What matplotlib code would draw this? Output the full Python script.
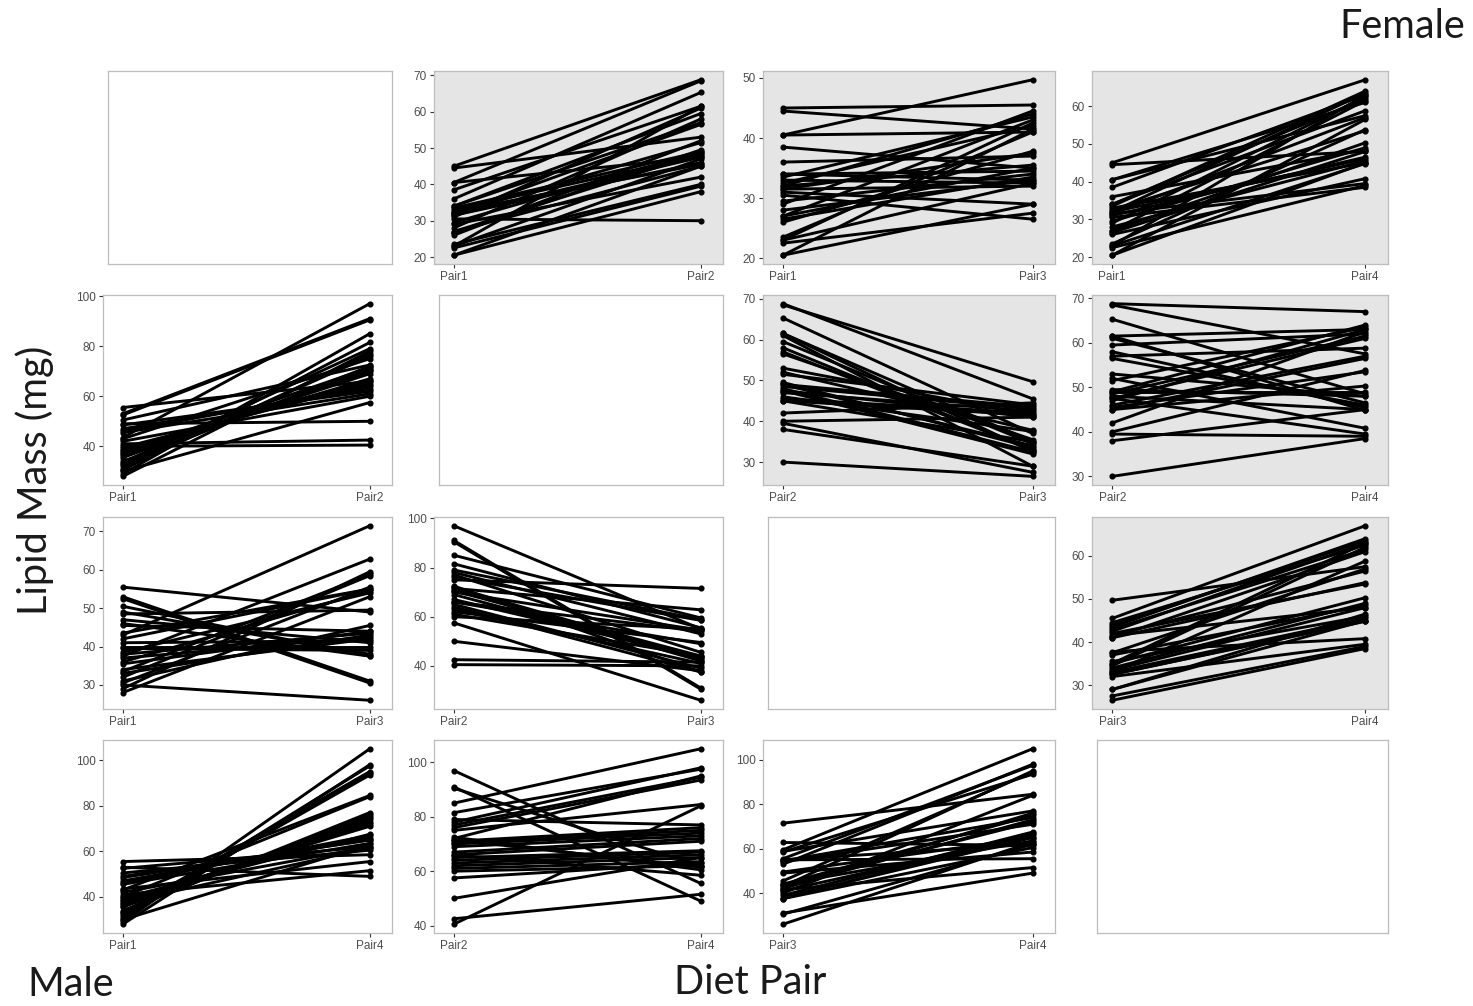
import numpy as np
import matplotlib.pyplot as plt
from matplotlib.ticker import MaxNLocator

diets = ["Pair1", "Pair2", "Pair3", "Pair4"]

# lipid mass (mg) per animal, one entry per individual, on each diet pair
female_pair1 = [45.0, 44.5, 40.5, 40.5, 38.5, 36.0, 34.0, 34.0, 33.5, 33.0,
                32.5, 32.0, 32.0, 31.5, 31.0, 30.5, 29.5, 29.0, 28.0, 27.0,
                27.0, 26.0, 23.5, 23.0, 23.0, 22.5, 20.5, 20.5, 26.5, 31.5]
female_pair2 = [68.8, 53.0, 68.5, 47.5, 61.5, 65.3, 59.5, 57.0, 49.0, 48.0,
                45.5, 56.5, 51.5, 46.0, 61.0, 30.0, 49.0, 42.0, 58.0, 45.0,
                48.5, 52.0, 40.0, 47.0, 61.5, 39.5, 38.0, 45.0, 49.5, 47.5]
female_pair3 = [45.5, 41.5, 49.7, 41.0, 35.0, 37.0, 34.5, 33.0, 43.5, 32.5,
                42.0, 35.5, 44.0, 37.5, 29.0, 26.5, 34.0, 44.5, 33.0, 35.0,
                43.0, 37.8, 41.0, 42.5, 32.5, 27.5, 29.0, 41.5, 33.5, 32.0]
female_pair4 = [67.0, 48.0, 57.5, 61.0, 63.0, 48.5, 62.0, 58.8, 64.0, 45.0,
                53.5, 46.0, 63.5, 57.0, 46.5, 38.5, 49.0, 62.5, 45.5, 50.3,
                61.5, 40.8, 53.8, 63.0, 44.8, 39.0, 45.0, 56.5, 48.0, 39.5]

male_pair1 = [43.0, 43.5, 55.5, 53.0, 52.5, 30.0, 40.0, 41.0, 49.0, 28.0,
              29.0, 30.5, 31.0, 32.0, 33.0, 34.0, 35.5, 36.0, 37.0, 38.0,
              38.5, 39.5, 46.0, 47.0, 48.5, 45.5, 42.0, 37.5, 33.5, 50.5]
male_pair2 = [75.0, 97.0, 66.0, 91.0, 90.5, 57.5, 40.5, 42.5, 50.0, 78.0,
              85.0, 81.5, 77.0, 76.0, 72.0, 71.0, 70.5, 70.0, 69.0, 67.0,
              66.0, 65.0, 64.0, 63.0, 62.0, 61.0, 60.0, 71.5, 79.0, 72.5]
male_pair3 = [71.5, 55.0, 49.0, 31.0, 30.5, 26.0, 40.0, 41.5, 38.0, 53.0,
              59.5, 55.5, 45.5, 58.5, 43.0, 42.0, 44.0, 54.5, 42.5, 43.5,
              54.0, 39.0, 37.5, 41.0, 49.5, 44.0, 55.0, 62.8, 58.8, 37.5]
male_pair4 = [84.5, 55.5, 58.5, 49.0, 62.0, 63.0, 84.0, 51.5, 65.0, 98.0,
              105.0, 97.5, 94.5, 93.5, 95.0, 76.0, 75.0, 74.0, 73.0, 72.0,
              71.0, 67.5, 67.0, 66.0, 65.0, 63.5, 62.0, 61.5, 77.0, 60.5]

female = [female_pair1, female_pair2, female_pair3, female_pair4]
male = [male_pair1, male_pair2, male_pair3, male_pair4]

W, H = 1473, 1006
fig = plt.figure(figsize=(W / 100, H / 100), dpi=100)

# panel edges in pixels
col_left = [103, 434, 763, 1092]
col_right = [392, 723, 1055, 1388]
row_top = [71, 295, 517, 740]
row_bottom = [264, 485, 709, 933]


def panel(left, top, right, bottom):
    return fig.add_axes([left / W, 1 - bottom / H, (right - left) / W, (bottom - top) / H])


for i in range(4):
    for j in range(4):
        if i == j:
            ax = panel(col_left[j] + 5, row_top[i], col_right[j], row_bottom[i])
            ax.set_xticks([])
            ax.set_yticks([])
        else:
            ax = panel(col_left[j], row_top[i], col_right[j], row_bottom[i])
            if i < j:
                a, b = female[i], female[j]
                labels = [diets[i], diets[j]]
                ax.set_facecolor("#E5E5E5")
            else:
                a, b = male[j], male[i]
                labels = [diets[j], diets[i]]
            for y0, y1 in zip(a, b):
                ax.plot([0, 1], [y0, y1], color="black", lw=2.1,
                        marker="o", ms=3.4, solid_capstyle="round")
            ax.set_xlim(-0.08, 1.09)
            ax.margins(y=0.05)
            ax.set_xticks([0, 1])
            ax.set_xticklabels(labels)
            ax.yaxis.set_major_locator(MaxNLocator(nbins=6, steps=[1, 2, 5, 10]))
            ax.tick_params(labelsize=8.5, length=3, width=0.8, color="#333333",
                           labelcolor="#4D4D4D", pad=2)
            for lab in ax.get_xticklabels() + ax.get_yticklabels():
                lab.set_family("Liberation Sans")
        for s in ax.spines.values():
            s.set_color("#BDBDBD")
            s.set_linewidth(0.9)

big = dict(family=["Lato", "DejaVu Sans"], color="#1A1A1A")
fig.text(1465 / W, 1 - 27 / H, "Female", ha="right", va="center", fontsize=28.5, **big)
fig.text(35 / W, 1 - 480 / H, "Lipid Mass (mg)", ha="center", va="center",
         rotation=90, fontsize=28.5, **big)
fig.text(27 / W, 1 - 985 / H, "Male", ha="left", va="center", fontsize=28.5, **big)
fig.text(750 / W, 1 - 983 / H, "Diet Pair", ha="center", va="center", fontsize=28.5, **big)

fig.savefig("out.png", dpi=100)
